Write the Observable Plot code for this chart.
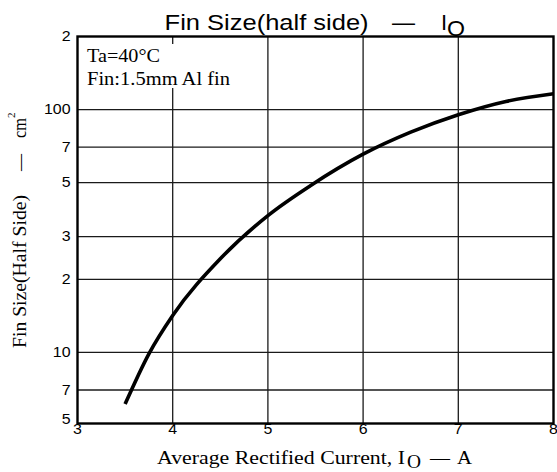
<!DOCTYPE html>
<html>
<head>
<meta charset="utf-8">
<script src="https://cdn.jsdelivr.net/npm/d3@7"></script>
<script src="https://cdn.jsdelivr.net/npm/@observablehq/plot@0.6"></script>
<style>
  html, body { margin: 0; padding: 0; background: #fff; }
  #chart { width: 557px; height: 472px; overflow: hidden; }
</style>
</head>
<body>
<div id="chart"></div>
<script>
// ---- data ----
const currentA = [3.50, 3.75, 4.0, 4.5, 5.0, 5.45, 6.0, 6.5, 7.0, 7.5, 8.0];
const finSizeCm2 = [6.13, 9.87, 14.2, 24.3, 36.6, 48.7, 65.5, 80.7, 95.2, 108, 116.2];
const xTickValues = [3, 4, 5, 6, 7, 8];
const xGridValues = [4, 5, 6, 7];
const yTickValues = [7, 10, 20, 30, 50, 70, 100, 200];
const yTickLabels = ["7", "10", "2", "3", "5", "7", "100", "2"];
const yBottomTick = [5];
const yBottomLabel = ["5"];
const yGridValues = [7, 10, 20, 30, 50, 70, 100];
const annotationLines = ["Ta=40°C", "Fin:1.5mm Al fin"];

const curve = currentA.map((x, i) => ({x, y: finSizeCm2[i]}));

const SANS = "'Liberation Sans', Arial, sans-serif";
const SERIF = "'Liberation Serif', 'Times New Roman', serif";

const chart = Plot.plot({
  width: 557,
  height: 472,
  marginLeft: 77,
  marginRight: 4,
  marginTop: 36,
  marginBottom: 49,
  style: {fontFamily: SANS, fontSize: "14px", background: "#fff", color: "#000", overflow: "visible"},
  x: {domain: [3, 8], axis: null},
  y: {type: "log", domain: [5, 200], range: [425, 36], axis: null},
  marks: [
    Plot.gridX(xGridValues, {stroke: "#1a1a1a", strokeOpacity: 1, strokeWidth: 1.3}),
    Plot.gridY(yGridValues, {stroke: "#1a1a1a", strokeOpacity: 1, strokeWidth: 1.3}),
    Plot.line(curve, {x: "x", y: "y", stroke: "#000", strokeWidth: 3.6, curve: "monotone-x", strokeLinecap: "butt"}),
    Plot.frame({stroke: "#000", strokeWidth: 2.4}),
    Plot.text(yTickValues, {y: d => d, text: (d, i) => yTickLabels[i], frameAnchor: "left", textAnchor: "end", dx: -7, fontSize: 14, fill: "#000"}),
    Plot.text(yBottomTick, {y: d => d, text: (d, i) => yBottomLabel[i], frameAnchor: "left", textAnchor: "end", dx: -7, dy: -6, fontSize: 14, fill: "#000"}),
    Plot.text(xTickValues, {x: d => d, text: d => String(d), frameAnchor: "bottom", lineAnchor: "top", dy: 1, fontSize: 14, fill: "#000"})
  ]
});
document.getElementById("chart").appendChild(chart);

const svg = d3.select(chart);

// horizontal stretch of tick labels to match the reference's proportions
svg.selectAll("text").each(function() {
  const t = this.getAttribute("transform");
  if (t) this.setAttribute("transform", t + " scale(1.14,1)");
  else {
    const w = this.getComputedTextLength();
    this.setAttribute("textLength", w * 1.14);
    this.setAttribute("lengthAdjust", "spacingAndGlyphs");
  }
});

function addText({x, y, text, family, size, width, anchor = "start", rotate = 0}) {
  const t = svg.append("text")
    .attr("font-family", family)
    .attr("font-size", size)
    .attr("text-anchor", anchor)
    .attr("fill", "#000")
    .attr("transform", `translate(${x},${y})` + (rotate ? ` rotate(${rotate})` : ""))
    .text(text);
  if (width) t.attr("textLength", width).attr("lengthAdjust", "spacingAndGlyphs");
  return t;
}

// white box behind the annotation
svg.append("rect").attr("x", 84).attr("y", 44).attr("width", 152).attr("height", 44).attr("fill", "#fff");
addText({x: 87, y: 61.7, text: annotationLines[0], family: SERIF, size: 19, width: 73});
addText({x: 87, y: 85, text: annotationLines[1], family: SERIF, size: 19, width: 143});

// title
addText({x: 164.6, y: 30.3, text: "Fin Size(half side)", family: SANS, size: 22, width: 204});
addText({x: 392, y: 30.3, text: "—", family: SANS, size: 22, width: 23});
addText({x: 441, y: 30.3, text: "I", family: SANS, size: 22});
addText({x: 447, y: 35.5, text: "O", family: SANS, size: 22, width: 18});

// x-axis label
addText({x: 157, y: 464, text: "Average Rectified Current, I", family: SERIF, size: 19, width: 248});
addText({x: 407, y: 468, text: "O", family: SERIF, size: 18, width: 14});
addText({x: 430, y: 464, text: "—", family: SERIF, size: 19, width: 20});
addText({x: 457, y: 464, text: "A", family: SERIF, size: 19, width: 15});

// y-axis label (rotated)
addText({x: 25.5, y: 348, text: "Fin Size(Half Side)", family: SERIF, size: 19.5, width: 153, rotate: -90});
addText({x: 25.5, y: 171, text: "—", family: SERIF, size: 19.5, width: 17, rotate: -90});
addText({x: 25.5, y: 138, text: "cm", family: SERIF, size: 19.5, width: 20, rotate: -90});
addText({x: 15, y: 118, text: "2", family: SERIF, size: 11, rotate: -90});
</script>
</body>
</html>
